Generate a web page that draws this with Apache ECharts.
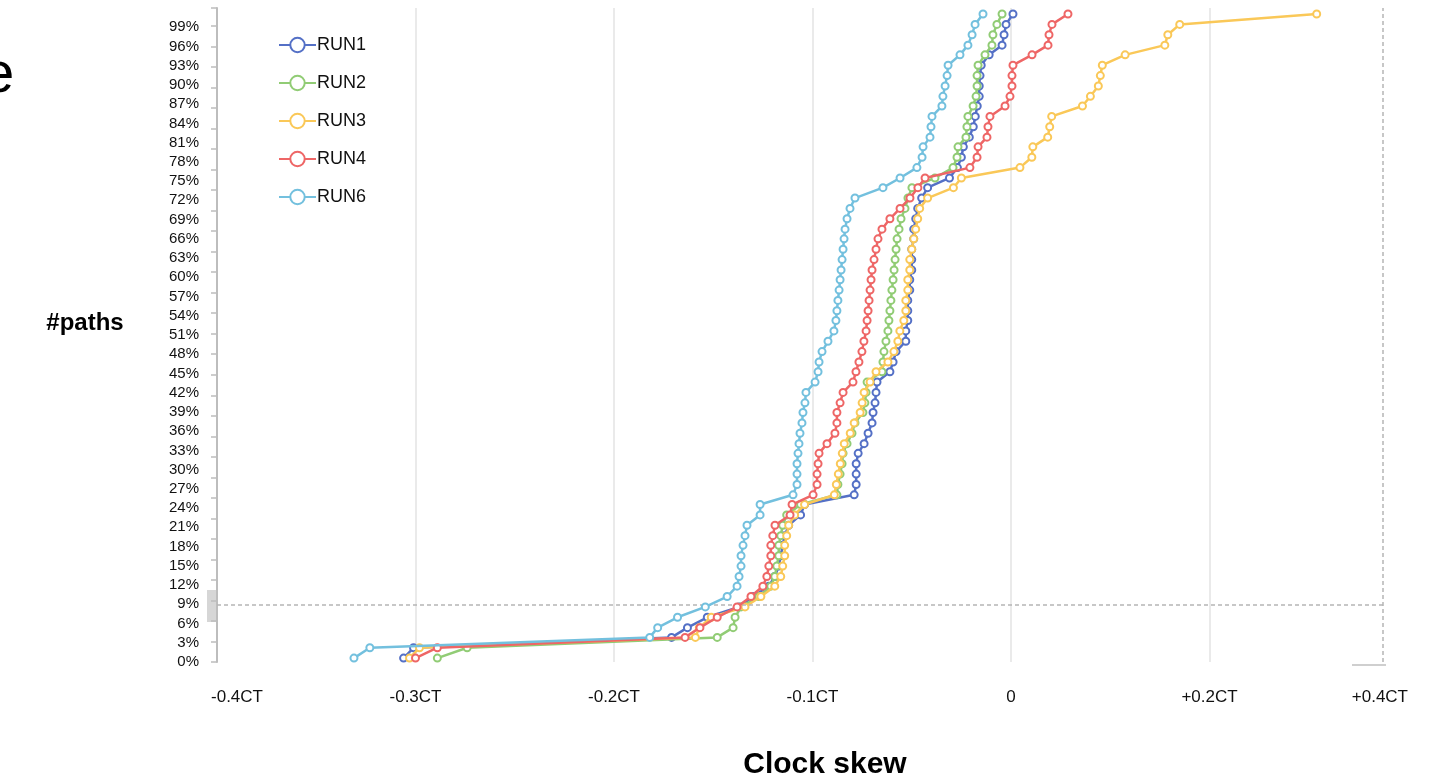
<!DOCTYPE html>
<html><head><meta charset="utf-8">
<script src="https://cdn.jsdelivr.net/npm/echarts@6/dist/echarts.min.js"></script>
<style>html,body{margin:0;padding:0;background:#fff}#c{width:1435px;height:779px}</style>
</head><body><div id="c"></div>
<script>
// cumulative share of paths (%) for each point, bottom to top
const levels = [0.6,2.2,3.8,5.3,6.9,8.5,10.1,11.7,13.2,14.8,16.4,18.0,19.5,21.1,22.7,24.3,25.8,27.4,29.0,30.6,32.2,33.7,35.3,36.9,38.5,40.0,41.6,43.2,44.8,46.3,47.9,49.5,51.1,52.7,54.2,55.8,57.4,59.0,60.5,62.1,63.7,65.3,66.8,68.4,70.0,71.6,73.2,74.7,76.3,77.9,79.5,81.0,82.6,84.2,85.8,87.3,88.9,90.5,92.1,93.7,95.2,96.8,98.4,100.0];
// clock skew (in CT) of each point
const run1 = [-0.306,-0.301,-0.171,-0.163,-0.153,-0.137,-0.130,-0.122,-0.119,-0.117,-0.116,-0.115,-0.114,-0.112,-0.106,-0.104,-0.079,-0.078,-0.078,-0.078,-0.077,-0.074,-0.072,-0.070,-0.0695,-0.0685,-0.068,-0.0675,-0.061,-0.0594,-0.0579,-0.053,-0.053,-0.052,-0.052,-0.052,-0.051,-0.051,-0.050,-0.050,-0.050,-0.049,-0.049,-0.048,-0.047,-0.045,-0.042,-0.031,-0.027,-0.025,-0.024,-0.021,-0.019,-0.018,-0.017,-0.016,-0.016,-0.0156,-0.015,-0.011,-0.0045,-0.0035,-0.0025,0.002];
const run2 = [-0.289,-0.274,-0.148,-0.140,-0.139,-0.136,-0.127,-0.121,-0.119,-0.118,-0.117,-0.117,-0.116,-0.115,-0.113,-0.106,-0.0877,-0.0872,-0.0861,-0.0851,-0.0846,-0.0826,-0.0801,-0.0786,-0.0746,-0.0736,-0.0730,-0.0725,-0.0650,-0.0645,-0.0640,-0.0630,-0.0620,-0.0615,-0.0610,-0.0605,-0.0600,-0.0594,-0.0589,-0.0584,-0.0579,-0.0574,-0.0564,-0.0554,-0.0534,-0.0519,-0.0499,-0.0383,-0.0292,-0.0272,-0.0267,-0.0227,-0.0222,-0.0217,-0.0191,-0.0176,-0.0171,-0.0171,-0.0166,-0.0131,-0.0096,-0.0091,-0.0071,-0.0045];
const run3 = [-0.303,-0.298,-0.159,-0.157,-0.151,-0.134,-0.126,-0.119,-0.116,-0.115,-0.114,-0.114,-0.113,-0.112,-0.109,-0.104,-0.089,-0.088,-0.087,-0.086,-0.085,-0.084,-0.081,-0.079,-0.076,-0.075,-0.074,-0.071,-0.068,-0.062,-0.059,-0.057,-0.056,-0.054,-0.053,-0.053,-0.052,-0.052,-0.051,-0.051,-0.050,-0.049,-0.048,-0.047,-0.046,-0.042,-0.029,-0.025,0.009,0.021,0.022,0.037,0.039,0.041,0.072,0.080,0.088,0.090,0.092,0.115,0.155,0.158,0.170,0.308];
const run4 = [-0.300,-0.289,-0.1642,-0.1567,-0.148,-0.138,-0.131,-0.125,-0.123,-0.122,-0.121,-0.121,-0.120,-0.1189,-0.1113,-0.1103,-0.0997,-0.0977,-0.0977,-0.0972,-0.0967,-0.0927,-0.0887,-0.0877,-0.0877,-0.0861,-0.0846,-0.0796,-0.0781,-0.0766,-0.0751,-0.0741,-0.0730,-0.0725,-0.0720,-0.0715,-0.0710,-0.0705,-0.0700,-0.0690,-0.0680,-0.0670,-0.0650,-0.0610,-0.0559,-0.0509,-0.0469,-0.0433,-0.0207,-0.0171,-0.0166,-0.0121,-0.0116,-0.0106,-0.0030,-0.0005,0.001,0.001,0.002,0.0212,0.0373,0.0383,0.0413,0.0574];
const run6 = [-0.331,-0.323,-0.182,-0.178,-0.168,-0.154,-0.143,-0.138,-0.137,-0.136,-0.136,-0.1350,-0.1340,-0.1330,-0.1264,-0.1264,-0.1098,-0.1078,-0.1078,-0.1078,-0.1073,-0.1068,-0.1063,-0.1053,-0.1048,-0.1038,-0.1033,-0.0987,-0.0972,-0.0967,-0.0952,-0.0922,-0.0892,-0.0882,-0.0877,-0.0872,-0.0866,-0.0861,-0.0856,-0.0851,-0.0846,-0.0841,-0.0836,-0.0826,-0.0811,-0.0786,-0.0645,-0.0559,-0.0474,-0.0448,-0.0443,-0.0408,-0.0403,-0.0398,-0.0348,-0.0343,-0.0332,-0.0322,-0.0317,-0.0257,-0.0217,-0.0196,-0.0181,-0.0141];

const seriesNames = ['RUN1','RUN2','RUN3','RUN4','RUN6'];
const seriesColors = ['#5470c6','#91cc75','#fac858','#ee6666','#73c0de'];
const xTickLabels = ['-0.4CT','-0.3CT','-0.2CT','-0.1CT','0','+0.2CT','+0.4CT']; // at axis steps -4..2
const runs = [run1, run2, run3, run4, run6];

// axis is piecewise: 0.1CT per step below zero, 0.2CT per step above zero
function toAxis(ct){ return ct < 0 ? ct / 0.1 : ct / 0.2; }

const FONT = 'Liberation Sans, Arial, sans-serif';
const chart = echarts.init(document.getElementById('c'), null, {renderer:'canvas'});
chart.setOption({
  animation:false,
  textStyle:{fontFamily:FONT},
  grid:{left:217, right:27, top:8, bottom:117, containLabel:false},
  legend:{
    orient:'vertical', left:273, top:31, itemWidth:37, itemHeight:18, itemGap:20,
    textStyle:{fontSize:18, color:'#111', fontFamily:FONT, padding:[0,0,0,-4]},
    data:seriesNames
  },
  xAxis:{
    type:'value', min:-4, max:2, interval:1,
    axisLine:{show:false}, axisTick:{show:false},
    splitLine:{show:true, showMaxLine:false, lineStyle:{color:'#e3e3e3', width:1.5}},
    axisLabel:{fontSize:17, color:'#111', margin:27, alignMinLabel:'center', alignMaxLabel:'right',
      rich:{m:{fontSize:17, color:'#111', fontFamily:FONT, padding:[0,0,0,40]}},
      formatter:v => { const t = xTickLabels[Math.round(v)+4]; return Math.round(v) === -4 ? '{m|' + t + '}' : t; }}
  },
  yAxis:[
    {type:'value', min:0, max:102, interval:3, position:'left',
     axisLine:{show:true, onZero:false, lineStyle:{color:'#bdbdbd', width:2}}, axisTick:{show:false},
     splitLine:{show:false},
     axisLabel:{fontSize:15, color:'#111', margin:18, showMaxLabel:false, formatter:v => v + '%'}},
    {type:'value', min:0, max:102, interval:3.2, position:'left',
     axisLine:{show:false, onZero:false}, axisLabel:{show:false}, splitLine:{show:false},
     axisTick:{show:true, length:6, lineStyle:{color:'#bdbdbd', width:1.5}}},
    {type:'value', min:0, max:100.93, show:false, axisLine:{onZero:false}}
  ],
  graphic:[
    {type:'text', left:-18, top:47, style:{text:'e', fontSize:58, fontFamily:FONT, fill:'#000'}},
    {type:'text', x:85, y:323, style:{text:'#paths', fontSize:24, fontWeight:'bold', fontFamily:FONT, fill:'#000', align:'center', verticalAlign:'middle'}},
    {type:'text', x:825, y:765, style:{text:'Clock skew', fontSize:30, fontWeight:'bold', fontFamily:FONT, fill:'#000', align:'center', verticalAlign:'middle'}},
    {type:'rect', shape:{x:207, y:590, width:9, height:32}, style:{fill:'#d6d6d6'}},
    {type:'rect', shape:{x:1352, y:664, width:34, height:2}, style:{fill:'#cfcfcf'}}
  ],
  series: runs.map((r, i) => ({
    name: seriesNames[i], type:'line', xAxisIndex:0, yAxisIndex:2,
    data: r.map((ct, k) => [toAxis(ct), levels[k]]),
    symbol:'emptyCircle', symbolSize:7, showSymbol:true,
    lineStyle:{width:2.5, color:seriesColors[i]},
    itemStyle:{color:seriesColors[i], borderWidth:1.8},
    emphasis:{disabled:true},
    z: 2 + i,
    markLine: i === 0 ? {
      silent:true, symbol:'none', label:{show:false},
      lineStyle:{color:'#b5b5b5', type:[4,3], width:1.5},
      data:[
        [{coord:[-4, 8.8]}, {coord:[1.874, 8.8]}],
        [{coord:[1.874, 0]}, {coord:[1.874, 100.93]}]
      ]
    } : undefined
  }))
});
</script>
</body></html>
